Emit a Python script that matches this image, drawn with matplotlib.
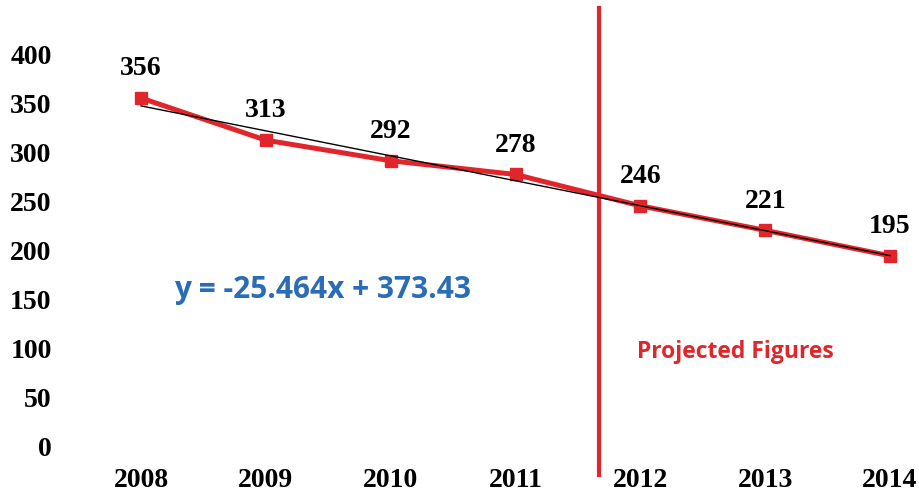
import numpy as np
import matplotlib.pyplot as plt

years = [2008, 2009, 2010, 2011, 2012, 2013, 2014]
values = [356, 313, 292, 278, 246, 221, 195]
yticks = [0, 50, 100, 150, 200, 250, 300, 350, 400]

# linear trend shown on the chart: y = -25.464x + 373.43 with x = 1..7
slope, intercept = -25.464, 373.43
xidx = np.arange(1, len(years) + 1)
trend = slope * xidx + intercept

red = '#e1262b'
blue = '#2a6cb5'

fig = plt.figure(figsize=(9.19, 4.93), dpi=100)
ax = fig.add_axes([60 / 919, 33 / 493, 859 / 919, 460 / 493])

ax.plot(years, values, color=red, lw=3.6, marker='s', ms=8, zorder=3)
ax.plot(years, trend, color='black', lw=1, zorder=4)

for x, v in zip(years, values):
    ax.annotate(str(v), (x, v), xytext=(0, 21), textcoords='offset points',
                ha='center', va='center', fontsize=20, fontweight='bold',
                family='Liberation Serif')

# projection divider
ax.plot([2011.67, 2011.67], [448, -28.5], color=red, lw=3, clip_on=False)

ax.text(2009.45, 160, 'y = -25.464x + 373.43', color=blue, fontsize=21.5,
        fontweight='bold', family='Open Sans', ha='center', va='center')
ax.text(2012.76, 97, 'Projected Figures', color=red, fontsize=16.5,
        fontweight='bold', family='Open Sans', ha='center', va='center')

ax.set_xlim(2007.351, 2014.232)
ax.set_ylim(-13.3, 456)
ax.set_xticks(years)
ax.set_yticks(yticks)
for s in ax.spines.values():
    s.set_visible(False)
ax.tick_params(length=0, labelsize=20, pad=6)
for lab in ax.get_xticklabels() + ax.get_yticklabels():
    lab.set_family('Liberation Serif')
    lab.set_fontweight('bold')

plt.savefig('out.png', dpi=100)
